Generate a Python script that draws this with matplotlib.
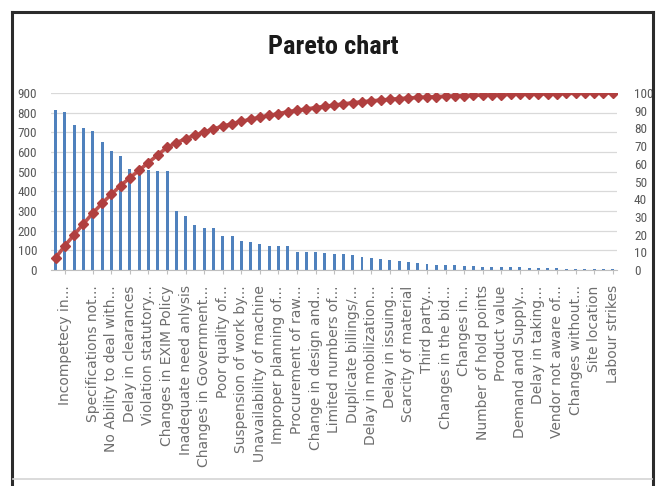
import numpy as np
import matplotlib
matplotlib.use("Agg")
import matplotlib.pyplot as plt
from matplotlib import font_manager
from matplotlib.lines import Line2D

# --- data -------------------------------------------------------------
categories = [
    "", "Incompetecy in...", "", "", "Specifications not...", "",
    "No Ability to deal with...", "", "Delay in clearances", "",
    "Violation statutory...", "", "Changes in EXIM Policy", "",
    "Inadequate need anlysis", "", "Changes in Government...", "",
    "Poor quality of...", "", "Suspension of work by...", "",
    "Unavailability of machine", "", "Improper planning of...", "",
    "Procurement of raw...", "", "Change in design and...", "",
    "Limited numbers of...", "", "Duplicate billings/...", "",
    "Delay in mobilization...", "", "Delay in issuing...", "",
    "Scarcity of material", "", "Third party...", "",
    "Changes in the bid...", "", "Changes in...", "",
    "Number of hold points", "", "Product value", "",
    "Demand and Supply...", "", "Delay in taking...", "",
    "Vendor not aware of...", "", "Changes without...", "",
    "Site location", "", "Labour strikes",
]

counts = [
    812, 805, 735, 723, 705, 650, 605, 580, 512, 510, 508, 505, 505,
    301, 275, 229, 212, 212, 173, 173, 149, 144, 131, 122, 122, 122, 93, 93, 90,
    85, 81, 81, 76, 65, 59, 54, 51, 47, 42, 34, 29, 25, 25, 25,
    22, 22, 17, 17, 15, 15, 14, 10, 10, 8, 8, 7, 7, 7, 5, 5, 4,
]

left_ticks = [0, 100, 200, 300, 400, 500, 600, 700, 800, 900]
right_ticks = [0, 10, 20, 30, 40, 50, 60, 70, 80, 90, 100]

title = "Pareto chart"


def pick_font(names):
    available = {f.name for f in font_manager.fontManager.ttflist}
    for n in names:
        if n in available:
            return n
    return "DejaVu Sans"


narrow = pick_font(["Liberation Sans Narrow", "Roboto Condensed", "Open Sans", "DejaVu Sans"])

values = np.array(counts, dtype=float)
cum_pct = np.cumsum(values) / values.sum() * 100.0
x = np.arange(len(values))

W, H = 657, 486
fig = plt.figure(figsize=(W / 100, H / 100), dpi=100)

# chart frame
frame_col = "#2b2b2b"
fig.add_artist(Line2D([12 / W, 12 / W], [0, 1 - 12 / H], color=frame_col, lw=2.2,
                      transform=fig.transFigure))
fig.add_artist(Line2D([653 / W, 653 / W], [0, 1 - 12 / H], color=frame_col, lw=2.2,
                      transform=fig.transFigure))
fig.add_artist(Line2D([12 / W, 653 / W], [1 - 12 / H, 1 - 12 / H], color=frame_col, lw=2.2,
                      transform=fig.transFigure))
fig.add_artist(Line2D([13 / W, 652 / W], [1 - 479 / H, 1 - 479 / H], color="#d4d4d4", lw=1.2,
                      transform=fig.transFigure))

fig.text(333 / W, 1 - 47 / H, title, ha="center", va="center",
         fontsize=19, fontweight="bold", family=[narrow, "DejaVu Sans"], color="#1a1a1a")

ax_left, ax_right = 51, 617.3
ax_top, ax_bottom = 93, 270
ax = fig.add_axes([ax_left / W, 1 - ax_bottom / H, (ax_right - ax_left) / W,
                   (ax_bottom - ax_top) / H])

ax.bar(x, values, width=0.32, color="#4F81BD", zorder=2)
ax.set_xlim(-0.5, len(values) - 0.5)
ax.set_ylim(0, 900)
ax.set_yticks(left_ticks)
ax.yaxis.grid(True, color="#d9d9d9", lw=0.9, zorder=0)
ax.set_axisbelow(True)
for s in ["top", "left", "right"]:
    ax.spines[s].set_visible(False)
ax.spines["bottom"].set_color("#bfbfbf")
ax.tick_params(axis="y", length=0, pad=10, labelsize=9.5, labelcolor="#595959")
for lbl in ax.get_yticklabels():
    lbl.set_family([narrow, "DejaVu Sans"])

labeled = [i for i, c in enumerate(categories) if c]
ax.set_xticks(labeled)
ax.set_xticklabels([categories[i] for i in labeled], rotation=90, ha="center", va="top",
                   fontsize=10, color="#6e6e6e")
ax.tick_params(axis="x", length=3, color="#bfbfbf", pad=8)

ax2 = ax.twinx()
ax2.plot(x, cum_pct, color="#C0504D", lw=2.6, marker="D", ms=4.8,
         mfc="#B03F3F", mec="#B03F3F", zorder=3)
ax2.set_ylim(0, 100)
ax2.set_yticks(right_ticks)
for s in ["top", "left", "right", "bottom"]:
    ax2.spines[s].set_visible(False)
ax2.tick_params(axis="y", length=0, pad=12, labelsize=9.5, labelcolor="#595959")
for lbl in ax2.get_yticklabels():
    lbl.set_family([narrow, "DejaVu Sans"])

fig.savefig("out.png", dpi=100)
